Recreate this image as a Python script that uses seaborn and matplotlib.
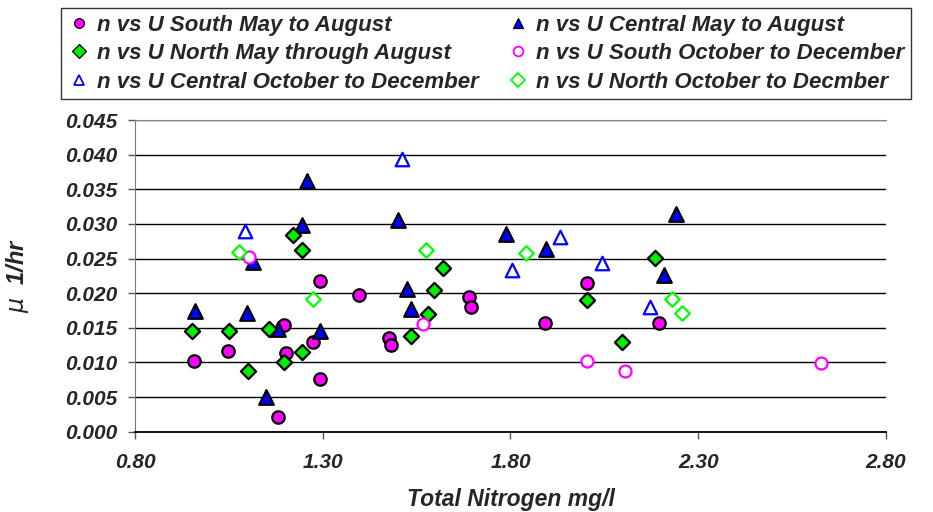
import matplotlib
matplotlib.use("Agg")
import matplotlib.pyplot as plt
import seaborn as sns
import pandas as pd
import numpy as np

# values (Total Nitrogen mg/l, mu 1/hr)
south_ma_x = [0.956, 1.047, 1.196, 1.201, 1.274, 1.292, 1.292, 1.180, 1.397, 1.477, 1.482,
              1.689, 1.696, 1.892, 2.004, 2.196]
south_ma_y = [0.0102, 0.0116, 0.0154, 0.0114, 0.0130, 0.0217, 0.0076, 0.0021, 0.0197, 0.0136,
              0.0125, 0.0194, 0.0180, 0.0157, 0.0214, 0.0157]

central_ma_x = [0.959, 1.097, 1.113, 1.149, 1.182, 1.257, 1.246, 1.294, 1.500, 1.525, 1.534,
                1.789, 1.895, 2.241, 2.209]
central_ma_y = [0.0174, 0.0172, 0.0245, 0.0050, 0.0148, 0.0362, 0.0298, 0.0146, 0.0305, 0.0206,
                0.0177, 0.0286, 0.0264, 0.0315, 0.0226]

north_ma_x = [0.953, 1.049, 1.102, 1.156, 1.198, 1.220, 1.246, 1.246, 1.534, 1.581, 1.597,
              1.619, 2.003, 2.098, 2.186]
north_ma_y = [0.0146, 0.0146, 0.0088, 0.0149, 0.0100, 0.0284, 0.0262, 0.0115, 0.0138, 0.0170,
              0.0204, 0.0236, 0.0190, 0.0129, 0.0251]

south_od_x = [1.104, 1.567, 2.004, 2.106, 2.627]
south_od_y = [0.0252, 0.0156, 0.0102, 0.0087, 0.0099]

central_od_x = [1.093, 1.512, 1.805, 1.933, 2.044, 2.172]
central_od_y = [0.0290, 0.0394, 0.0234, 0.0281, 0.0243, 0.0180]

north_od_x = [1.076, 1.273, 1.576, 1.842, 2.231, 2.257]
north_od_y = [0.0259, 0.0192, 0.0262, 0.0258, 0.0192, 0.0172]

x_ticks = [0.80, 1.30, 1.80, 2.30, 2.80]
y_ticks = [0.000, 0.005, 0.010, 0.015, 0.020, 0.025, 0.030, 0.035, 0.040, 0.045]

# series: (label, x, y, marker, face, edge, size)
series = [
    ("n vs U South May to August", south_ma_x, south_ma_y, "o", "#FF00FF", "black", 80),
    ("n vs U North May through August", north_ma_x, north_ma_y, "D", "#00EE00", "black", 60),
    ("n vs U Central October to December", central_od_x, central_od_y, "^", "white", "#0000FF", 95),
    ("n vs U Central May to August", central_ma_x, central_ma_y, "^", "#0000FF", "black", 110),
    ("n vs U South October to December", south_od_x, south_od_y, "o", "white", "#FF00FF", 75),
    ("n vs U North October to Decmber", north_od_x, north_od_y, "D", "white", "#00FF00", 55),
]

sns.set_style("white")
plt.rcParams["font.family"] = ["Liberation Sans", "DejaVu Sans"]

fig = plt.figure(figsize=(9.33, 5.12), dpi=100)
ax = fig.add_axes([0.1447, 0.1568, 0.8049, 0.6088])

draw_order = [0, 3, 1, 4, 2, 5]
handles = {}
for i in draw_order:
    label, xs, ys, marker, face, edge, size = series[i]
    df = pd.DataFrame({"x": xs, "y": ys})
    sns.scatterplot(data=df, x="x", y="y", ax=ax, marker=marker, s=size,
                    color=face, edgecolor=edge, linewidth=1.6, zorder=3)
    handles[i] = plt.Line2D([], [], ls="none", marker=marker, markersize=7,
                            markerfacecolor=face, markeredgecolor=edge,
                            markeredgewidth=1.3 if face == "white" else 0.9)

tick_font = {"fontsize": 15, "fontweight": "bold", "style": "italic"}
ax.set_xlim(0.80, 2.80)
ax.set_ylim(0.0, 0.045)
ax.set_xticks(x_ticks)
ax.set_yticks(y_ticks)
ax.set_xticklabels([f"{v:.2f}" for v in x_ticks], **tick_font)
ax.set_yticklabels([f"{v:.3f}" for v in y_ticks], **tick_font)
ax.grid(axis="y", color="black", lw=1.0)
ax.set_axisbelow(True)
ax.tick_params(axis="both", direction="out", length=5, width=1, color="#555555",
               left=True, bottom=True)
ax.tick_params(axis="x", pad=10)
ax.tick_params(axis="y", pad=8)
ax.spines["right"].set_visible(False)
ax.spines["top"].set_color("#888888")
ax.spines["left"].set_color("#777777")
ax.spines["bottom"].set_color("black")
ax.spines["bottom"].set_linewidth(1.3)

ax.set_xlabel("Total Nitrogen mg/l", fontsize=16.5, fontweight="bold", style="italic", labelpad=12)
ax.set_ylabel(r"$\mu$  1/hr", fontsize=17, fontweight="bold", style="italic", labelpad=24)

leg = fig.legend([handles[i] for i in range(6)], [s[0] for s in series],
                 ncol=2, loc="upper left",
                 bbox_to_anchor=(61 / 933, 1 - 8 / 512),
                 prop={"size": 16, "weight": "bold", "style": "italic"},
                 frameon=True, fancybox=False, edgecolor="black",
                 handletextpad=0.3, handlelength=1.0, labelspacing=0.34,
                 borderpad=0.3, borderaxespad=0, columnspacing=1.3)
leg.get_frame().set_linewidth(1.0)

fig.savefig("out.png", dpi=100)
